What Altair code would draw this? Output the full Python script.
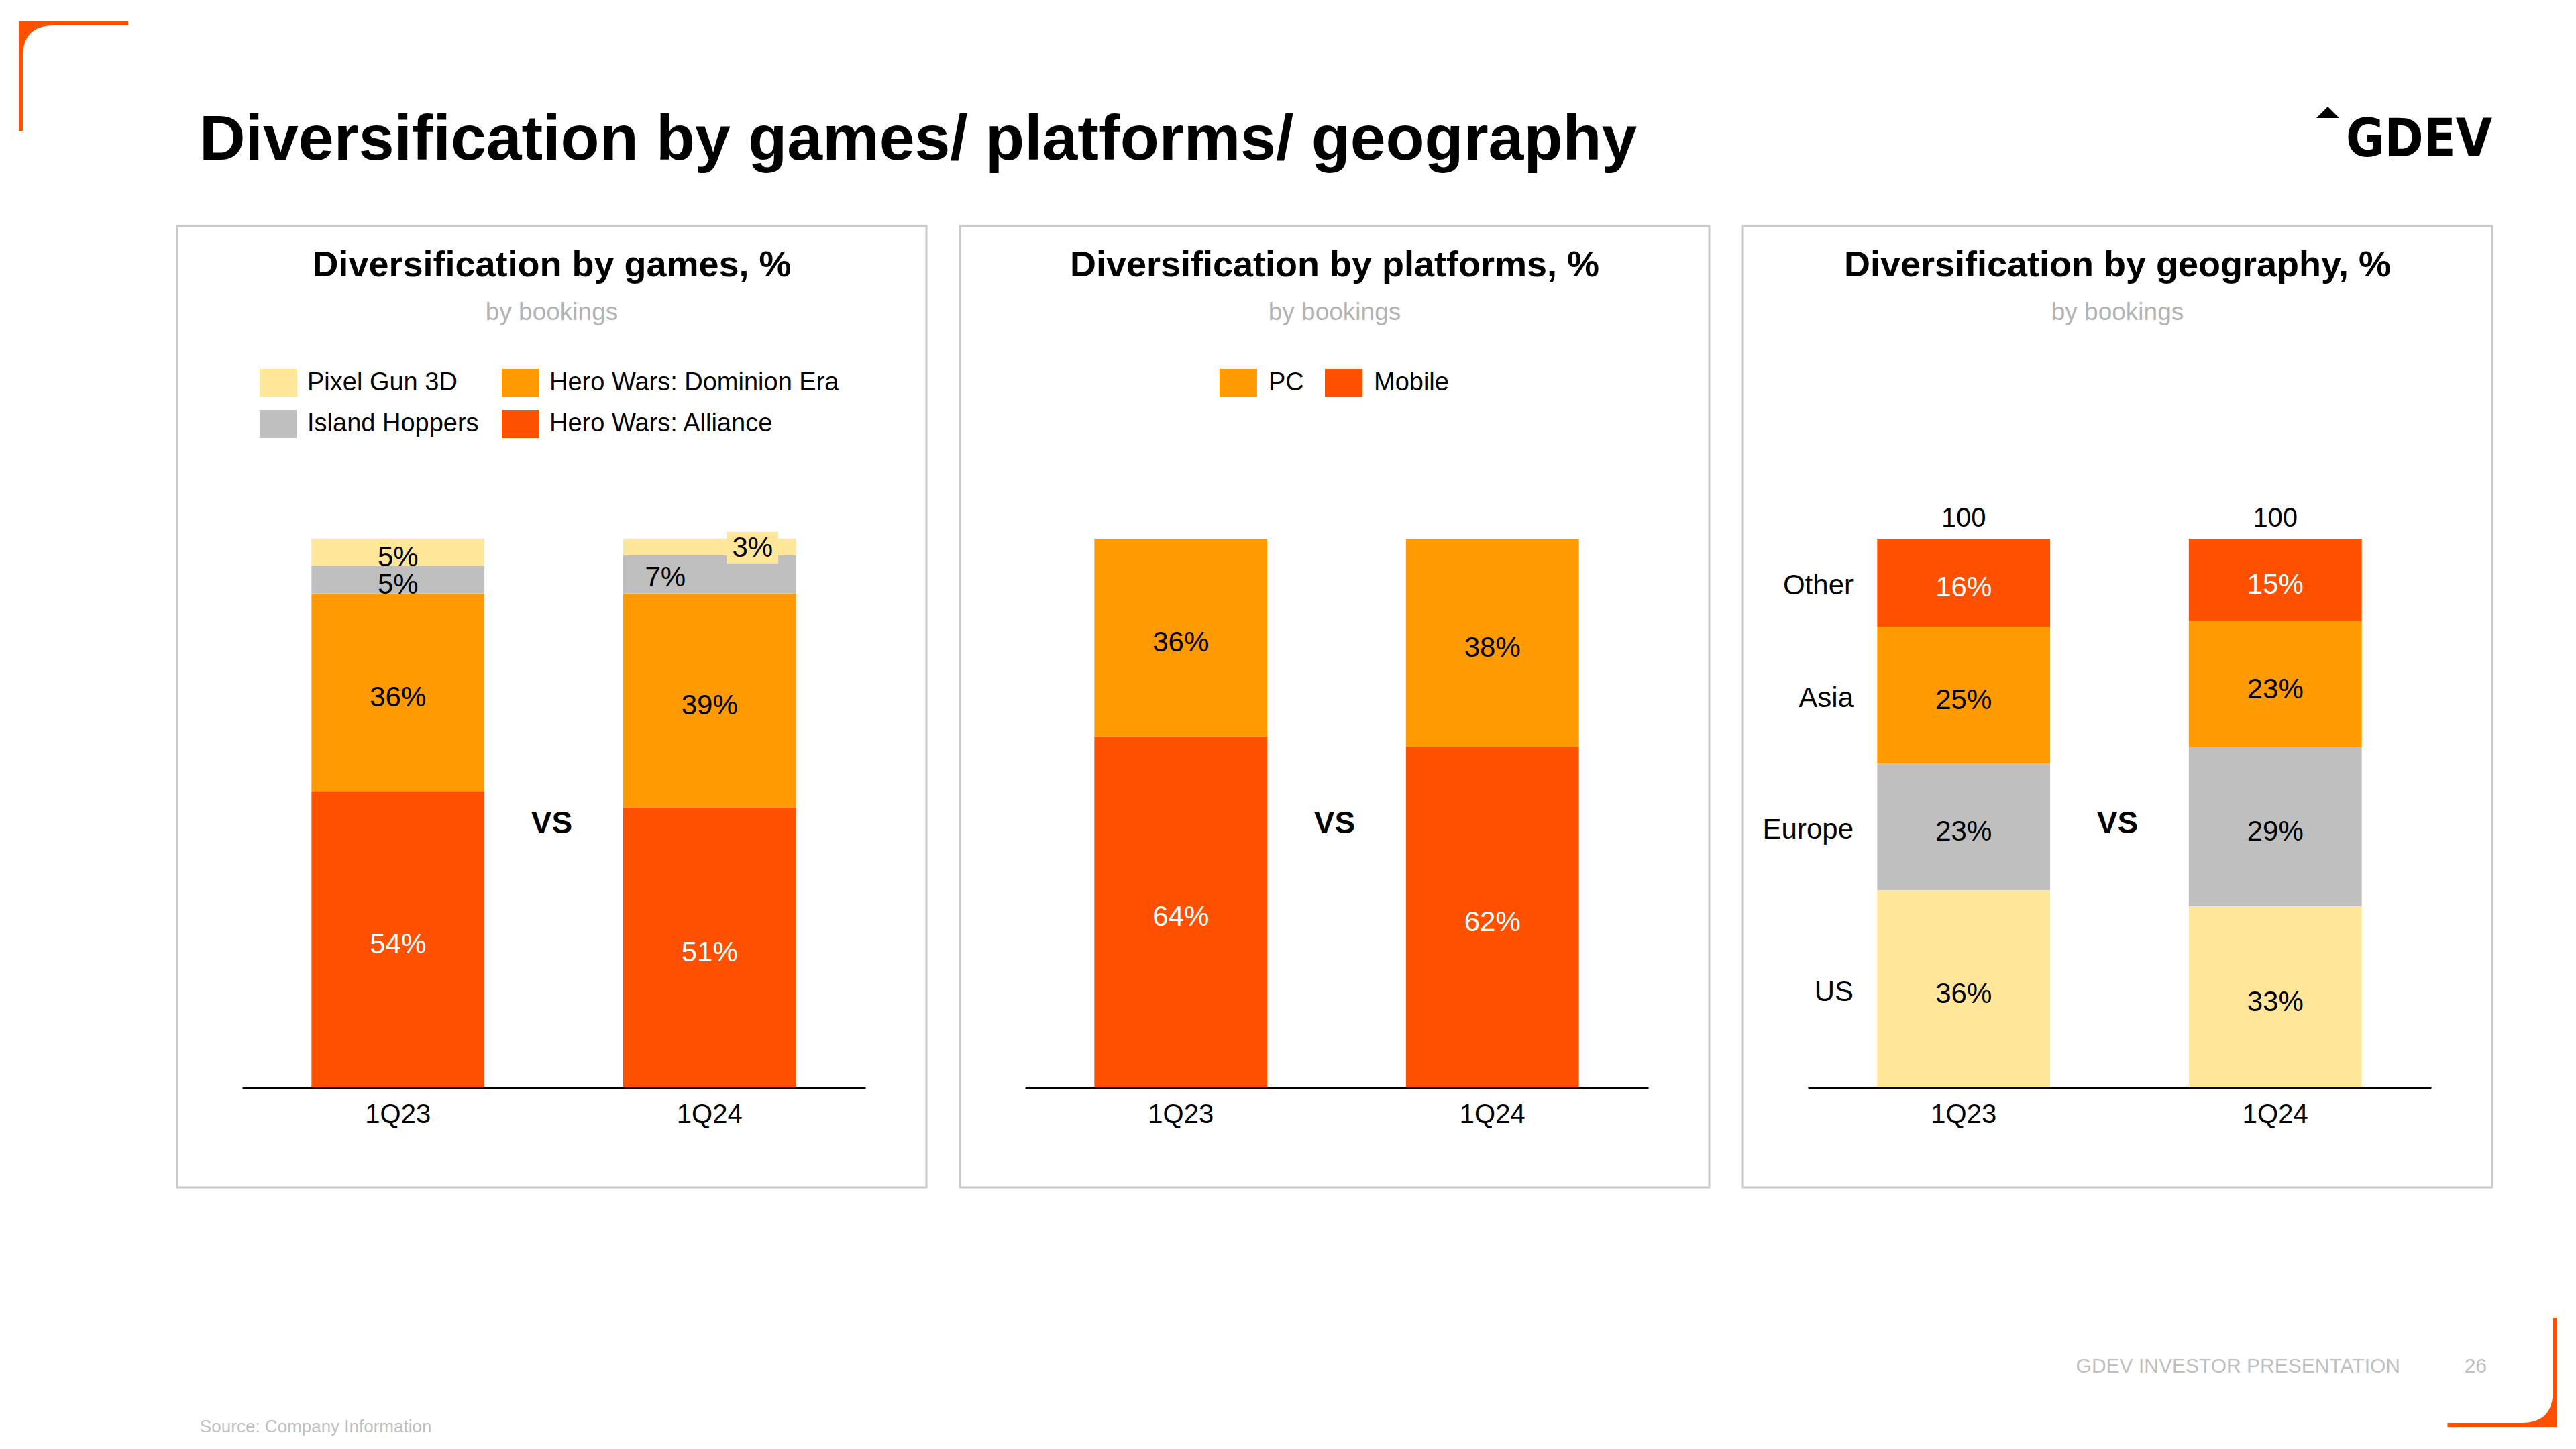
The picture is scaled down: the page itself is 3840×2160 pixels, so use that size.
import altair as alt
import pandas as pd

# ---------------- data ----------------
quarters = ["1Q23", "1Q24"]

games = ["Hero Wars: Alliance", "Hero Wars: Dominion Era", "Island Hoppers", "Pixel Gun 3D"]
games_1q23 = [54, 36, 5, 5]
games_1q24 = [51, 39, 7, 3]

platforms = ["Mobile", "PC"]
platforms_1q23 = [64, 36]
platforms_1q24 = [62, 38]

regions = ["US", "Europe", "Asia", "Other"]
regions_1q23 = [36, 23, 25, 16]
regions_1q24 = [33, 29, 23, 15]

main_title = "Diversification by games/ platforms/ geography"
panel_titles = ["Diversification by games, %",
                "Diversification by platforms, %",
                "Diversification by geography, %"]
panel_subtitle = "by bookings"
vs_text = "VS"
logo_text = "GDEV"
footer_text = "GDEV INVESTOR PRESENTATION"
page_number = "26"
source_text = "Source: Company Information"

# ---------------- style ----------------
FONT = "Liberation Sans"
RED, ORANGE, GRAY, YELLOW = "#FF5000", "#FF9B00", "#BFBFBF", "#FFE699"
W, H = 3824, 2144
BASE_Y, TOP_Y = 1613, 795
PANEL_LEFTS = [256, 1423, 2590]
PANEL_W = 1117
PANEL_TOP, PANEL_BOTTOM = 329, 1762
LEGEND_RECT = "M-1,-0.75H1V0.75H-1Z"
WHITE_TEST = ("datum.series === 'Hero Wars: Alliance' || datum.series === 'Mobile'"
              " || datum.series === 'Other'")


def frame(names, v23, v24):
    rows = []
    for q, vals in zip(quarters, [v23, v24]):
        for i, (n, v) in enumerate(zip(names, vals)):
            rows.append({"quarter": q, "series": n, "value": v, "order": i})
    return pd.DataFrame(rows)


games_df = frame(games, games_1q23, games_1q24)
platforms_df = frame(platforms, platforms_1q23, platforms_1q24)
regions_df = frame(regions, regions_1q23, regions_1q24)


def stacked(df):
    return alt.Chart(df).transform_stack(
        stack="value", groupby=["quarter"], as_=["y0", "y1"],
        sort=[alt.SortField("order", order="ascending")]
    ).transform_calculate(mid="(datum.y0 + datum.y1) / 2", pct="datum.value + '%'")


def enc_x(left):
    x0 = left + 97
    return alt.X("quarter:N",
                 scale=alt.Scale(domain=quarters, range=[x0, x0 + 929],
                                 paddingInner=0.445, paddingOuter=0.2225),
                 axis=alt.Axis(orient="bottom", offset=BASE_Y - H, domainColor="black",
                               domainWidth=3, ticks=False, tickSize=0, labelFont=FONT,
                               labelFontSize=40, labelColor="black", labelPadding=20,
                               labelAngle=0, grid=False, title=None))


YS = alt.Scale(domain=[0, 100], range=[BASE_Y, TOP_Y], nice=False, zero=False)


def enc_y(field):
    return alt.Y(field, scale=YS, axis=None)


def bars(base, left, cdom, crange, legend):
    return base.mark_bar().encode(
        x=enc_x(left), y=enc_y("y0:Q"), y2="y1:Q",
        color=alt.Color("series:N", scale=alt.Scale(domain=cdom, range=crange), legend=legend),
    )


def labels(base, left, filt=None, dy=8, **kw):
    c = base.transform_filter(filt) if filt else base
    return c.mark_text(font=FONT, fontSize=42, baseline="middle", dy=dy, **kw).encode(
        x=enc_x(left), y=enc_y("mid:Q"), text="pct:N",
        color=alt.condition(WHITE_TEST, alt.value("white"), alt.value("black")),
    )


def one():
    return alt.Chart(alt.Data(values=[{}]))


def text_layer(txt, x, y, size, weight="normal", color="black", align="left",
               baseline="alphabetic", font=FONT):
    return one().mark_text(font=font, fontSize=size, fontWeight=weight, color=color,
                           align=align, baseline=baseline).encode(
        x=alt.value(x), y=alt.value(y), text=alt.value(txt))


def legend(x, y, cpad, loff):
    return alt.Legend(orient="none", legendX=x, legendY=y, columns=2, title=None,
                      symbolType=LEGEND_RECT, symbolSize=3136, symbolStrokeWidth=0,
                      symbolOpacity=1, labelFont=FONT, labelFontSize=38, labelColor="black",
                      labelOffset=loff, rowPadding=12, columnPadding=cpad, padding=0,
                      labelLimit=1000)


# ---------------- panel 1 : games ----------------
L1 = PANEL_LEFTS[0]
b1 = stacked(games_df)
IH24 = "datum.quarter === '1Q24' && datum.series === 'Island Hoppers'"
PG24 = "datum.quarter === '1Q24' && datum.series === 'Pixel Gun 3D'"
p1 = alt.layer(
    bars(b1, L1, ["Pixel Gun 3D", "Island Hoppers", "Hero Wars: Dominion Era", "Hero Wars: Alliance"],
         [YELLOW, GRAY, ORANGE, RED], legend(379, 535, 34, 15)),
    labels(b1, L1, filt=f"!({IH24}) && !({PG24})"),
    labels(b1, L1, filt=IH24, dy=5, xOffset=-66),
    b1.transform_filter(PG24).mark_point(shape="M-1,-0.61H1V0.61H-1Z", size=5929, filled=True,
                                         color=YELLOW, opacity=1, strokeWidth=0,
                                         xOffset=64, yOffset=1).encode(
        x=enc_x(L1), y=enc_y("mid:Q")),
    labels(b1, L1, filt=PG24, dy=2, xOffset=64),
)

# ---------------- panel 2 : platforms ----------------
L2 = PANEL_LEFTS[1]
b2 = stacked(platforms_df)
p2 = alt.layer(
    bars(b2, L2, ["PC", "Mobile"], [ORANGE, RED], legend(1810, 535, 31, 17)),
    labels(b2, L2),
)

# ---------------- panel 3 : geography ----------------
L3 = PANEL_LEFTS[2]
b3 = stacked(regions_df)
p3 = alt.layer(
    bars(b3, L3, ["US", "Europe", "Asia", "Other"], [YELLOW, GRAY, ORANGE, RED], None),
    labels(b3, L3),
    alt.Chart(regions_df).transform_aggregate(total="sum(value)", groupby=["quarter"]).mark_text(
        font=FONT, fontSize=40, dy=-30, color="black").encode(
        x=enc_x(L3), y=enc_y("total:Q"), text="total:Q"),
    b3.transform_filter("datum.quarter === '1Q23'").mark_text(
        font=FONT, fontSize=42, align="right", baseline="middle", dy=5, color="black").encode(
        x=alt.value(L3 + 165), y=enc_y("mid:Q"), text="series:N"),
)

# ---------------- decorations ----------------
decor = []
for left, title in zip(PANEL_LEFTS, panel_titles):
    cx = left + PANEL_W / 2
    decor.append(one().mark_rect(fillOpacity=0, stroke="#C9C9C9", strokeWidth=3).encode(
        x=alt.value(left), x2=alt.value(left + PANEL_W),
        y=alt.value(PANEL_TOP), y2=alt.value(PANEL_BOTTOM)))
    decor.append(text_layer(title, cx, 404, 54, weight="bold", align="center"))
    decor.append(text_layer(panel_subtitle, cx, 469, 37, color="#B3B3B3", align="center"))
    decor.append(text_layer(vs_text, cx, 1220, 46, weight="bold", align="center",
                            baseline="middle"))

decor.append(text_layer(main_title, 289, 230, 95, weight="bold"))
decor.append(text_layer(logo_text, 3489, 225, 78, weight="bold",
                        font="Liberation Sans Narrow, DejaVu Sans Condensed, sans-serif"))
decor.append(one().mark_point(shape="M-1,0.5L0,-0.5L1,0.5Z", size=1156, filled=True,
                              color="black", opacity=1, strokeWidth=0).encode(
    x=alt.value(3462), y=alt.value(159.5)))
decor.append(one().mark_point(
    shape="M-1,-1H1V-0.926H-0.36Q-0.926,-0.926 -0.926,-0.36V1H-1Z", size=26569,
    filled=True, color=RED, opacity=1, strokeWidth=0).encode(
    x=alt.value(101.5), y=alt.value(105.5)))
decor.append(one().mark_point(
    shape="M1,1H-1V0.926H0.36Q0.926,0.926 0.926,0.36V-1H1Z", size=26569,
    filled=True, color=RED, opacity=1, strokeWidth=0).encode(
    x=alt.value(3722), y=alt.value(2037.5)))
decor.append(text_layer(footer_text, 3570, 2038, 30, color="#BFBFBF", align="right"))
decor.append(text_layer(page_number, 3699, 2038, 30, color="#BFBFBF", align="right"))
decor.append(text_layer(source_text, 290, 2127, 26, color="#BFBFBF"))

chart = alt.layer(*decor, p1, p2, p3).resolve_scale(
    x="independent", y="independent", color="independent"
).properties(
    width=W, height=H, autosize=alt.AutoSizeParams(type="none"), padding=0,
    background="white",
).configure_view(stroke=None)

chart.save("out.html", embed_options={"renderer": "svg", "actions": False})
